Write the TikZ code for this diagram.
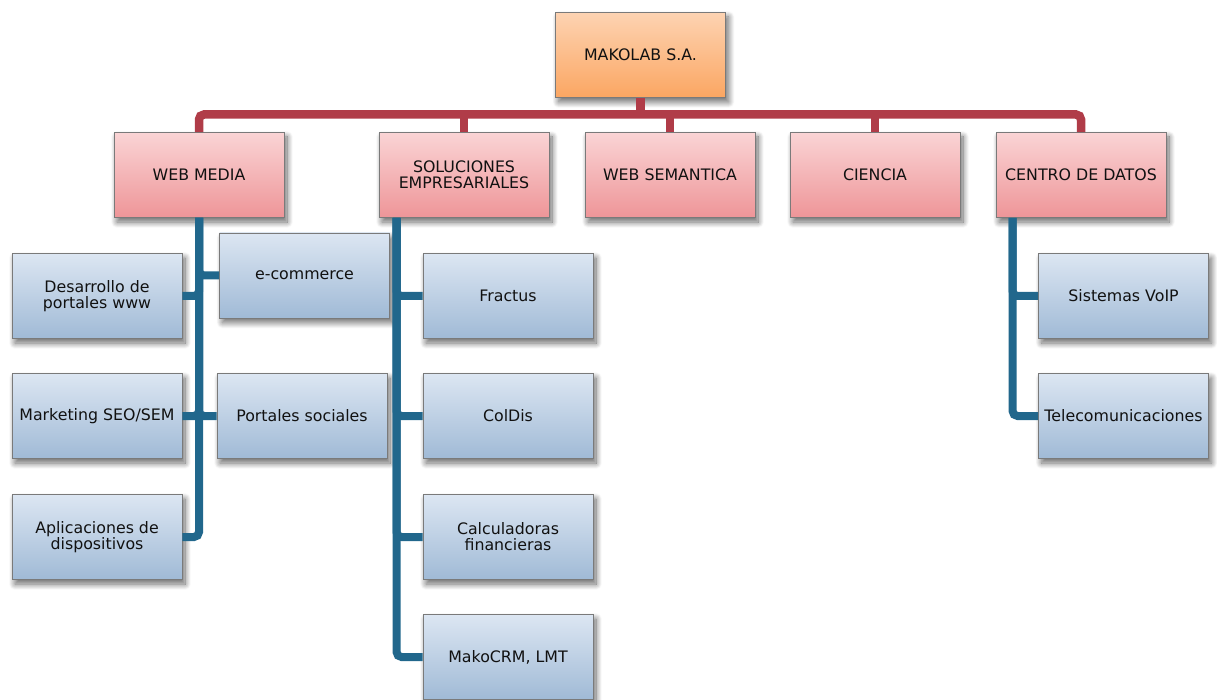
\documentclass[tikz,border=0pt]{standalone}
\usepackage{fontspec}
\setmainfont{DejaVu Sans}
\usetikzlibrary{shadows.blur}
\definecolor{redln}{HTML}{B03C48}
\definecolor{blueln}{HTML}{21678C}
\definecolor{boxborder}{HTML}{7A7A7A}
\definecolor{orangeT}{HTML}{FDD3B2}
\definecolor{orangeB}{HTML}{FBA662}
\definecolor{pinkT}{HTML}{FAD4D5}
\definecolor{pinkB}{HTML}{EE9598}
\definecolor{blueT}{HTML}{DCE6F2}
\definecolor{blueB}{HTML}{A0BAD6}
\definecolor{txt}{HTML}{111111}
\tikzset{
  base/.style={draw=boxborder, line width=0.9pt, minimum width=170pt, minimum height=85pt,
    align=center, text=txt, font=\fontsize{15.8}{16}\selectfont, inner sep=1pt,
    blur shadow={shadow xshift=3pt, shadow yshift=-4.5pt, shadow blur radius=6pt,
      shadow blur steps=12, shadow opacity=60}},
  topbox/.style={base, top color=orangeT, bottom color=orangeB},
  lvlbox/.style={base, top color=pinkT, bottom color=pinkB},
  leaf/.style={base, top color=blueT, bottom color=blueB},
  redconn/.style={draw=redln, line width=8.5pt, rounded corners=5pt},
  blueconn/.style={draw=blueln, line width=8pt, rounded corners=5pt},
}
\begin{document}
\begin{tikzpicture}[x=1pt,y=-1pt]
\useasboundingbox (0,0) rectangle (1217,700);
% top
\node[topbox] (mak) at (640.5,55) {MAKOLAB S.A.};
% level 1
\node[lvlbox] (wm) at (199,175) {WEB MEDIA};
\node[lvlbox] (se) at (464,175) {SOLUCIONES\\EMPRESARIALES};
\node[lvlbox] (ws) at (670,175) {WEB SEMANTICA};
\node[lvlbox] (ci) at (875,175) {CIENCIA};
\node[lvlbox] (cd) at (1081,175) {CENTRO DE DATOS};
% web media leaves
\node[leaf] (d1) at (97,296) {Desarrollo de\\portales www};
\node[leaf] (d2) at (304.5,275.5) {e-commerce};
\node[leaf] (d3) at (97,416) {Marketing SEO/SEM};
\node[leaf] (d4) at (302,416) {Portales sociales};
\node[leaf] (d5) at (97,537) {Aplicaciones de\\dispositivos};
% soluciones leaves
\node[leaf] (s1) at (508,296) {Fractus};
\node[leaf] (s2) at (508,416) {ColDis};
\node[leaf] (s3) at (508,537) {Calculadoras\\financieras};
\node[leaf] (s4) at (508,657) {MakoCRM, LMT};
% centro de datos leaves
\node[leaf] (c1) at (1123.5,296) {Sistemas VoIP};
\node[leaf] (c2) at (1123.5,416) {Telecomunicaciones};
% red connectors
\coordinate (bar) at (640,114.5);
\draw[redconn] (wm.north) -- (wm.north |- bar) -- (cd.north |- bar) -- (cd.north);
\draw[redconn] (mak.south) -- (mak.south |- bar);
\draw[redconn] (se.north |- bar) -- (se.north);
\draw[redconn] (ws.north |- bar) -- (ws.north);
\draw[redconn] (ci.north |- bar) -- (ci.north);
% blue connectors
\draw[blueconn] (wm.south) |- (d1.east);
\draw[blueconn] (wm.south) |- (d2.west);
\draw[blueconn] (wm.south) |- (d3.east);
\draw[blueconn] (wm.south) |- (d4.west);
\draw[blueconn] (wm.south) |- (d5.east);
\coordinate (sesp) at ([xshift=18pt]se.south west);
\draw[blueconn] (sesp) |- (s1.west);
\draw[blueconn] (sesp) |- (s2.west);
\draw[blueconn] (sesp) |- (s3.west);
\draw[blueconn] (sesp) |- (s4.west);
\coordinate (cdsp) at ([xshift=17pt]cd.south west);
\draw[blueconn] (cdsp) |- (c1.west);
\draw[blueconn] (cdsp) |- (c2.west);
\end{tikzpicture}
\end{document}
